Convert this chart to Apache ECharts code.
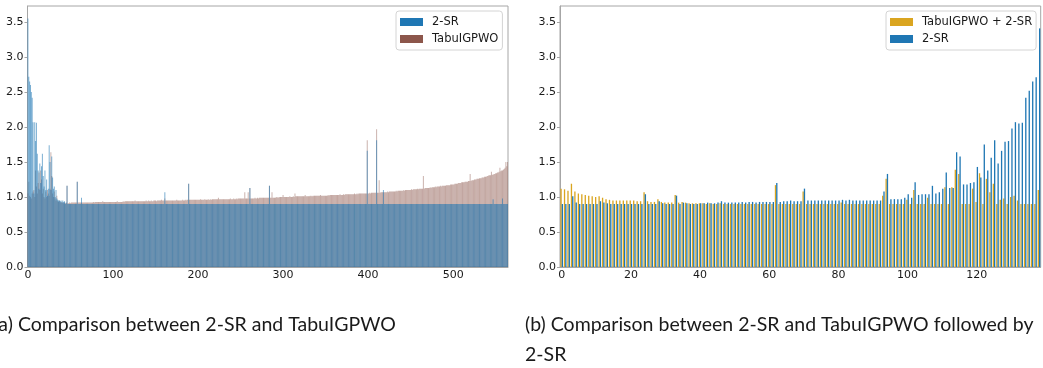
<!DOCTYPE html>
<html>
<head>
<meta charset="utf-8">
<script src="https://cdn.jsdelivr.net/npm/echarts@6.0.0/dist/echarts.min.js"></script>
<style>
  html, body { margin: 0; padding: 0; background: #fff; }
  #chart { width: 1043px; height: 368px; }
</style>
</head>
<body>
<div id="chart"></div>
<script>
// (a) 2-SR vs TabuIGPWO, one value per instance (565 instances)
var tabuA = [
  1.05, 1.22, 1.02, 1.00, 0.98, 1.05, 1.08, 1.10, 1.00, 1.38,
  1.15, 1.05, 1.20, 1.35, 1.10, 1.38, 1.25, 1.05, 1.12, 1.00,
  0.98, 1.08, 1.00, 1.10, 1.05, 1.02, 1.12, 1.64, 1.30, 1.05,
  1.00, 1.08, 0.98, 0.95, 1.02, 0.94, 0.93, 0.95, 0.92, 0.93,
  0.92, 0.92, 0.91, 0.92, 0.91, 0.91, 1.16, 0.91, 0.91, 0.92,
  0.91, 0.92, 0.92, 0.92, 0.92, 0.92, 0.92, 0.92, 1.22, 0.92,
  0.92, 0.92, 0.92, 0.92, 0.92, 0.92, 0.92, 0.92, 0.92, 0.92,
  0.92, 0.92, 0.92, 0.92, 0.92, 0.92, 0.92, 0.93, 0.92, 0.93,
  0.93, 0.93, 0.93, 0.93, 0.93, 0.93, 0.93, 0.93, 0.94, 0.93,
  0.93, 0.93, 0.93, 0.93, 0.93, 0.93, 0.93, 0.93, 0.93, 0.93,
  0.93, 0.93, 0.93, 0.93, 0.93, 0.94, 0.93, 0.93, 0.93, 0.93,
  0.93, 0.93, 0.94, 0.93, 0.94, 0.94, 0.94, 0.94, 0.94, 0.94,
  0.94, 0.94, 0.94, 0.94, 0.94, 0.94, 0.95, 0.94, 0.94, 0.94,
  0.94, 0.94, 0.94, 0.94, 0.94, 0.94, 0.94, 0.94, 0.94, 0.95,
  0.94, 0.94, 0.95, 0.94, 0.94, 0.95, 0.94, 0.94, 0.95, 0.95,
  0.95, 0.94, 0.95, 0.95, 0.95, 0.95, 0.95, 0.96, 0.95, 0.95,
  0.95, 0.98, 0.95, 0.95, 0.95, 0.95, 0.95, 0.95, 0.95, 0.95,
  0.95, 0.95, 0.95, 0.95, 0.95, 0.96, 0.95, 0.95, 0.95, 0.95,
  0.95, 0.95, 0.96, 0.95, 0.95, 0.96, 0.95, 0.96, 0.96, 1.19,
  0.96, 0.96, 0.96, 0.96, 0.96, 0.96, 0.96, 0.96, 0.96, 0.96,
  0.96, 0.96, 0.96, 0.97, 0.96, 0.96, 0.96, 0.96, 0.97, 0.96,
  0.96, 0.96, 0.97, 0.96, 0.96, 0.97, 0.96, 0.97, 0.97, 0.97,
  0.97, 0.97, 0.97, 0.97, 0.99, 0.97, 0.97, 0.97, 0.97, 0.97,
  0.97, 0.97, 0.97, 0.97, 0.97, 0.97, 0.97, 0.97, 0.98, 0.97,
  0.97, 0.97, 0.98, 0.97, 0.97, 0.98, 0.97, 0.98, 0.98, 0.98,
  0.98, 0.98, 0.98, 0.98, 0.98, 1.07, 0.98, 0.98, 0.98, 1.07,
  0.98, 1.13, 0.98, 0.98, 0.98, 0.98, 0.98, 0.99, 0.98, 0.98,
  0.99, 0.98, 0.99, 0.99, 0.99, 0.99, 0.99, 0.99, 0.99, 0.99,
  0.99, 0.99, 0.99, 0.99, 1.16, 0.99, 0.99, 1.07, 0.99, 0.99,
  0.99, 0.99, 1.00, 0.99, 1.00, 0.99, 1.00, 1.00, 1.00, 1.00,
  1.03, 1.00, 1.00, 1.00, 1.00, 1.00, 1.00, 1.00, 1.01, 1.00,
  1.00, 1.00, 1.01, 1.00, 1.05, 1.01, 1.01, 1.01, 1.01, 1.01,
  1.01, 1.01, 1.01, 1.01, 1.01, 1.01, 1.03, 1.01, 1.01, 1.01,
  1.01, 1.01, 1.02, 1.01, 1.02, 1.01, 1.02, 1.02, 1.02, 1.02,
  1.02, 1.02, 1.02, 1.02, 1.03, 1.02, 1.02, 1.02, 1.02, 1.02,
  1.02, 1.02, 1.02, 1.03, 1.02, 1.03, 1.03, 1.03, 1.03, 1.03,
  1.03, 1.03, 1.03, 1.03, 1.03, 1.03, 1.03, 1.04, 1.03, 1.03,
  1.03, 1.04, 1.03, 1.04, 1.04, 1.04, 1.04, 1.04, 1.04, 1.04,
  1.04, 1.04, 1.04, 1.04, 1.05, 1.04, 1.04, 1.05, 1.04, 1.05,
  1.05, 1.05, 1.05, 1.05, 1.05, 1.05, 1.05, 1.05, 1.05, 1.81,
  1.05, 1.05, 1.06, 1.05, 1.06, 1.06, 1.06, 1.06, 1.06, 1.06,
  1.97, 1.06, 1.06, 1.24, 1.06, 1.07, 1.07, 1.07, 1.07, 1.07,
  1.07, 1.07, 1.07, 1.08, 1.07, 1.08, 1.08, 1.08, 1.08, 1.08,
  1.08, 1.08, 1.08, 1.09, 1.08, 1.09, 1.09, 1.09, 1.09, 1.09,
  1.09, 1.09, 1.10, 1.09, 1.10, 1.10, 1.10, 1.10, 1.10, 1.10,
  1.10, 1.11, 1.10, 1.11, 1.11, 1.11, 1.11, 1.11, 1.12, 1.11,
  1.12, 1.12, 1.12, 1.12, 1.12, 1.30, 1.12, 1.13, 1.13, 1.13,
  1.13, 1.13, 1.13, 1.14, 1.13, 1.14, 1.14, 1.14, 1.14, 1.15,
  1.14, 1.15, 1.15, 1.15, 1.15, 1.16, 1.15, 1.16, 1.16, 1.16,
  1.16, 1.16, 1.17, 1.17, 1.17, 1.17, 1.17, 1.18, 1.18, 1.18,
  1.18, 1.18, 1.19, 1.19, 1.19, 1.19, 1.20, 1.20, 1.20, 1.20,
  1.21, 1.21, 1.21, 1.21, 1.22, 1.22, 1.22, 1.22, 1.23, 1.23,
  1.33, 1.23, 1.24, 1.24, 1.24, 1.25, 1.25, 1.25, 1.26, 1.26,
  1.26, 1.27, 1.27, 1.27, 1.28, 1.28, 1.28, 1.29, 1.29, 1.29,
  1.30, 1.30, 1.31, 1.31, 1.31, 1.36, 1.32, 1.32, 1.33, 1.33,
  1.34, 1.34, 1.35, 1.35, 1.36, 1.42, 1.37, 1.38, 1.38, 1.39,
  1.40, 1.42, 1.50, 1.44, 1.50
];

var twoSRa = [
  3.55, 2.72, 2.65, 2.60, 2.50, 2.42, 2.07, 1.05, 2.07, 1.80,
  2.06, 1.62, 1.38, 1.12, 1.48, 1.20, 1.44, 1.62, 1.30, 1.15,
  1.38, 1.10, 1.25, 1.02, 1.12, 1.74, 1.50, 1.10, 1.58, 1.28,
  1.12, 1.15, 1.00, 1.10, 0.98, 0.96, 0.95, 0.95, 0.94, 0.95,
  0.92, 0.95, 0.93, 0.94, 0.90, 0.92, 1.16, 0.90, 0.90, 0.90,
  0.90, 0.90, 0.90, 0.90, 0.90, 0.90, 0.90, 0.90, 1.22, 0.90,
  0.90, 0.90, 0.90, 0.99, 0.90, 0.90, 0.90, 0.90, 0.90, 0.90,
  0.90, 0.90, 0.90, 0.90, 0.90, 0.90, 0.90, 0.90, 0.90, 0.90,
  0.90, 0.90, 0.90, 0.90, 0.90, 0.90, 0.90, 0.90, 0.90, 0.90,
  0.90, 0.90, 0.90, 0.90, 0.90, 0.90, 0.90, 0.90, 0.90, 0.90,
  0.90, 0.90, 0.90, 0.90, 0.90, 0.90, 0.90, 0.90, 0.90, 0.90,
  0.90, 0.90, 0.90, 0.90, 0.90, 0.90, 0.90, 0.90, 0.90, 0.90,
  0.90, 0.90, 0.90, 0.90, 0.90, 0.90, 0.90, 0.90, 0.90, 0.90,
  0.90, 0.90, 0.90, 0.90, 0.90, 0.90, 0.90, 0.90, 0.90, 0.90,
  0.90, 0.90, 0.90, 0.90, 0.90, 0.90, 0.90, 0.90, 0.90, 0.90,
  0.90, 0.90, 0.90, 0.90, 0.90, 0.90, 0.90, 0.90, 0.90, 0.90,
  0.90, 1.07, 0.90, 0.90, 0.90, 0.90, 0.90, 0.90, 0.90, 0.90,
  0.90, 0.90, 0.90, 0.90, 0.90, 0.90, 0.90, 0.90, 0.90, 0.90,
  0.90, 0.90, 0.90, 0.90, 0.90, 0.90, 0.90, 0.90, 0.90, 1.19,
  0.90, 0.90, 0.90, 0.90, 0.90, 0.90, 0.90, 0.90, 0.90, 0.90,
  0.90, 0.90, 0.90, 0.90, 0.90, 0.90, 0.90, 0.90, 0.90, 0.90,
  0.90, 0.90, 0.90, 0.90, 0.90, 0.90, 0.90, 0.90, 0.90, 0.90,
  0.90, 0.90, 0.90, 0.90, 0.90, 0.90, 0.90, 0.90, 0.90, 0.90,
  0.90, 0.90, 0.90, 0.90, 0.90, 0.90, 0.90, 0.90, 0.90, 0.90,
  0.90, 0.90, 0.90, 0.90, 0.90, 0.90, 0.90, 0.90, 0.90, 0.90,
  0.90, 0.90, 0.90, 0.90, 0.90, 0.90, 0.90, 0.90, 0.90, 0.90,
  0.90, 1.13, 0.90, 0.90, 0.90, 0.90, 0.90, 0.90, 0.90, 0.90,
  0.90, 0.90, 0.90, 0.90, 0.90, 0.90, 0.90, 0.90, 0.90, 0.90,
  0.90, 0.90, 0.90, 0.90, 1.16, 0.90, 0.90, 0.90, 0.90, 0.90,
  0.90, 0.90, 0.90, 0.90, 0.90, 0.90, 0.90, 0.90, 0.90, 0.90,
  0.90, 0.90, 0.90, 0.90, 0.90, 0.90, 0.90, 0.90, 0.90, 0.90,
  0.90, 0.90, 0.90, 0.90, 0.90, 0.90, 0.90, 0.90, 0.90, 0.90,
  0.90, 0.90, 0.90, 0.90, 0.90, 0.90, 0.90, 0.90, 0.90, 0.90,
  0.90, 0.90, 0.90, 0.90, 0.90, 0.90, 0.90, 0.90, 0.90, 0.90,
  0.90, 0.90, 0.90, 0.90, 0.90, 0.90, 0.90, 0.90, 0.90, 0.90,
  0.90, 0.90, 0.90, 0.90, 0.90, 0.90, 0.90, 0.90, 0.90, 0.90,
  0.90, 0.90, 0.90, 0.90, 0.90, 0.90, 0.90, 0.90, 0.90, 0.90,
  0.90, 0.90, 0.90, 0.90, 0.90, 0.90, 0.90, 0.90, 0.90, 0.90,
  0.90, 0.90, 0.90, 0.90, 0.90, 0.90, 0.90, 0.90, 0.90, 0.90,
  0.90, 0.90, 0.90, 0.90, 0.90, 0.90, 0.90, 0.90, 0.90, 1.66,
  0.90, 0.90, 0.90, 0.90, 0.90, 0.90, 0.90, 0.90, 0.90, 0.90,
  1.81, 0.90, 0.90, 0.90, 0.90, 0.90, 0.90, 0.90, 1.10, 0.90,
  0.90, 0.90, 0.90, 0.90, 0.90, 0.90, 0.90, 0.90, 0.90, 0.90,
  0.90, 0.90, 0.90, 0.90, 0.90, 0.90, 0.90, 0.90, 0.90, 0.90,
  0.90, 0.90, 0.90, 0.90, 0.90, 0.90, 0.90, 0.90, 0.90, 0.90,
  0.90, 0.90, 0.90, 0.90, 0.90, 0.90, 0.90, 0.90, 0.90, 0.90,
  0.90, 0.90, 0.90, 0.90, 0.90, 0.90, 0.90, 0.90, 0.90, 0.90,
  0.90, 0.90, 0.90, 0.90, 0.90, 0.90, 0.90, 0.90, 0.90, 0.90,
  0.90, 0.90, 0.90, 0.90, 0.90, 0.90, 0.90, 0.90, 0.90, 0.90,
  0.90, 0.90, 0.90, 0.90, 0.90, 0.90, 0.90, 0.90, 0.90, 0.90,
  0.90, 0.90, 0.90, 0.90, 0.90, 0.90, 0.90, 0.90, 0.90, 0.90,
  0.90, 0.90, 0.90, 0.90, 0.90, 0.90, 0.90, 0.90, 0.90, 0.90,
  0.90, 0.90, 0.90, 0.90, 0.90, 0.90, 0.90, 0.90, 0.90, 0.90,
  0.90, 0.90, 0.90, 0.90, 0.90, 0.90, 0.90, 0.90, 0.90, 0.90,
  0.90, 0.90, 0.90, 0.90, 0.90, 0.90, 0.90, 0.97, 0.90, 0.90,
  0.90, 0.90, 0.90, 0.90, 0.90, 0.90, 0.90, 0.90, 0.98, 0.90,
  0.90, 0.90, 0.90, 0.90, 0.90
];

// (b) TabuIGPWO followed by 2-SR vs 2-SR (139 instances)
var tabuB = [
  1.12, 1.11, 1.09, 1.19, 1.08, 1.05, 1.04, 1.03, 1.02, 1.01,
  1.00, 1.01, 0.99, 0.97, 0.96, 0.95, 0.95, 0.95, 0.95, 0.95,
  0.95, 0.95, 0.94, 0.94, 1.07, 0.94, 0.93, 0.93, 0.97, 0.93,
  0.92, 0.92, 0.92, 1.03, 0.92, 0.93, 0.92, 0.91, 0.91, 0.91,
  0.91, 0.91, 0.90, 0.91, 0.90, 0.90, 0.91, 0.90, 0.90, 0.90,
  0.90, 0.90, 0.90, 0.90, 0.90, 0.90, 0.90, 0.90, 0.90, 0.90,
  0.90, 0.90, 1.17, 0.90, 0.90, 0.90, 0.90, 0.90, 0.90, 0.90,
  1.08, 0.90, 0.90, 0.90, 0.90, 0.90, 0.90, 0.90, 0.90, 0.90,
  0.90, 0.92, 0.90, 0.90, 0.90, 0.90, 0.90, 0.90, 0.90, 0.90,
  0.90, 0.90, 0.90, 1.02, 1.26, 0.90, 0.90, 0.90, 0.90, 0.90,
  0.96, 0.90, 1.10, 0.90, 0.90, 0.90, 0.99, 0.90, 0.90, 0.90,
  0.90, 1.14, 0.90, 1.14, 1.39, 1.33, 0.90, 0.90, 0.90, 1.12,
  0.93, 1.34, 0.90, 1.26, 1.07, 1.19, 0.90, 0.96, 0.98, 0.90,
  1.00, 1.02, 0.95, 0.90, 0.90, 0.90, 0.90, 0.90, 1.10
];

var twoSRb = [
  0.90, 0.90, 0.90, 1.01, 0.92, 0.90, 0.90, 0.90, 0.90, 0.90,
  0.90, 0.94, 0.92, 0.91, 0.90, 0.90, 0.90, 0.90, 0.90, 0.90,
  0.90, 0.90, 0.90, 0.90, 1.04, 0.90, 0.90, 0.90, 0.94, 0.91,
  0.90, 0.90, 0.90, 1.02, 0.90, 0.92, 0.91, 0.90, 0.90, 0.90,
  0.91, 0.91, 0.92, 0.91, 0.91, 0.92, 0.94, 0.92, 0.92, 0.92,
  0.92, 0.92, 0.93, 0.92, 0.93, 0.93, 0.92, 0.93, 0.93, 0.93,
  0.93, 0.93, 1.20, 0.93, 0.94, 0.94, 0.95, 0.94, 0.94, 0.94,
  1.12, 0.95, 0.95, 0.95, 0.95, 0.95, 0.95, 0.95, 0.95, 0.95,
  0.95, 0.96, 0.95, 0.96, 0.95, 0.95, 0.95, 0.95, 0.95, 0.95,
  0.95, 0.95, 0.95, 1.08, 1.33, 0.97, 0.97, 0.97, 0.97, 0.99,
  1.04, 0.99, 1.21, 1.03, 1.04, 1.04, 1.04, 1.16, 1.05, 1.07,
  1.12, 1.35, 1.13, 1.13, 1.64, 1.58, 1.18, 1.18, 1.20, 1.21,
  1.43, 1.28, 1.75, 1.38, 1.56, 1.81, 1.48, 1.66, 1.79, 1.80,
  1.98, 2.07, 2.05, 2.06, 2.42, 2.52, 2.65, 2.71, 3.41
];

var yTop = 3.73;

var catA = [];
for (var i = 0; i < twoSRa.length; i++) catA.push(String(i));
var catB = [];
for (var j = 0; j < twoSRb.length; j++) catB.push(String(j));

var chart = echarts.init(document.getElementById('chart'));

var spine = '#a6a6a6';
var tickFont = { fontFamily: 'DejaVu Sans', fontSize: 11, color: '#1a1a1a' };

function xAxisFor(cats, step, gi) {
    var every = function (idx) { return idx % step === 0; };
    return {
        type: 'category', gridIndex: gi, data: cats, boundaryGap: true,
        axisLine: { lineStyle: { color: spine } },
        axisTick: { alignWithLabel: true, length: 3, interval: every, lineStyle: { color: spine } },
        axisLabel: Object.assign({ interval: every, margin: 3 }, tickFont),
        splitLine: { show: false }
    };
}

function yAxisFor(gi) {
    return {
        type: 'value', gridIndex: gi, min: 0, max: yTop, interval: 0.5,
        axisLine: { show: true, lineStyle: { color: spine } },
        axisTick: { show: true, length: 3, lineStyle: { color: spine } },
        axisLabel: Object.assign({
            margin: 4, showMaxLabel: false,
            formatter: function (v) { return v > 3.5 ? '' : v.toFixed(1); }
        }, tickFont),
        splitLine: { show: false }
    };
}

function legendFor(left, items) {
    return {
        left: left, top: 11, orient: 'vertical', selectedMode: false,
        itemWidth: 23, itemHeight: 8, itemGap: 3,
        padding: [4, 4, 4, 4],
        backgroundColor: '#fff', borderColor: '#d4d4d4', borderWidth: 1, borderRadius: 3,
        textStyle: { fontFamily: 'DejaVu Sans', fontSize: 11.5, color: '#1a1a1a', lineHeight: 14, padding: [0, 0, 0, 4] },
        data: items.map(function (it) {
            return { name: it[0], icon: 'rect', itemStyle: { color: it[1], opacity: 1 } };
        })
    };
}

var captionFont = { fontFamily: 'Lato', fontSize: 19.5, fill: '#1a1a1a' };

chart.setOption({
    animation: false,
    grid: [
        { left: 27.5, top: 6, width: 480.5, height: 261, show: true, borderColor: spine, borderWidth: 1, containLabel: false, outerBoundsMode: 'none' },
        { left: 560, top: 6, width: 480.7, height: 261, show: true, borderColor: spine, borderWidth: 1, containLabel: false, outerBoundsMode: 'none' }
    ],
    xAxis: [xAxisFor(catA, 100, 0), xAxisFor(catB, 20, 1)],
    yAxis: [yAxisFor(0), yAxisFor(1)],
    legend: [
        legendFor(396, [['2-SR', '#1f77b4'], ['TabuIGPWO', '#8c564b']]),
        legendFor(886, [['TabuIGPWO + 2-SR', '#daa520'], ['2-SR', '#1f77b4']])
    ],
    series: [
        {
            name: 'TabuIGPWO', type: 'bar', xAxisIndex: 0, yAxisIndex: 0, data: tabuA,
            barWidth: '80%', barGap: '-100%',
            itemStyle: { color: 'rgba(140,86,75,0.45)' }, emphasis: { disabled: true }
        },
        {
            name: '2-SR', type: 'bar', xAxisIndex: 0, yAxisIndex: 0, data: twoSRa,
            barWidth: '80%', barGap: '-100%',
            itemStyle: { color: 'rgba(31,119,180,0.58)' }, emphasis: { disabled: true }
        },
        {
            name: 'TabuIGPWO + 2-SR', type: 'bar', xAxisIndex: 1, yAxisIndex: 1, data: tabuB,
            barGap: '0%', barCategoryGap: '24%',
            itemStyle: { color: '#daa520' }, emphasis: { disabled: true }
        },
        {
            name: '2-SR', type: 'bar', xAxisIndex: 1, yAxisIndex: 1, data: twoSRb,
            barGap: '0%', barCategoryGap: '24%',
            itemStyle: { color: '#1f77b4' }, emphasis: { disabled: true }
        }
    ],
    graphic: [
        { type: 'text', x: -6.5, y: 324.5, style: Object.assign({ text: '(a) Comparison between 2-SR and TabuIGPWO', verticalAlign: 'middle' }, captionFont) },
        { type: 'text', x: 525, y: 324.5, style: Object.assign({ text: '(b) Comparison between 2-SR and TabuIGPWO followed by', verticalAlign: 'middle' }, captionFont) },
        { type: 'text', x: 525, y: 354.5, style: Object.assign({ text: '2-SR', verticalAlign: 'middle' }, captionFont) }
    ]
});
</script>
</body>
</html>
